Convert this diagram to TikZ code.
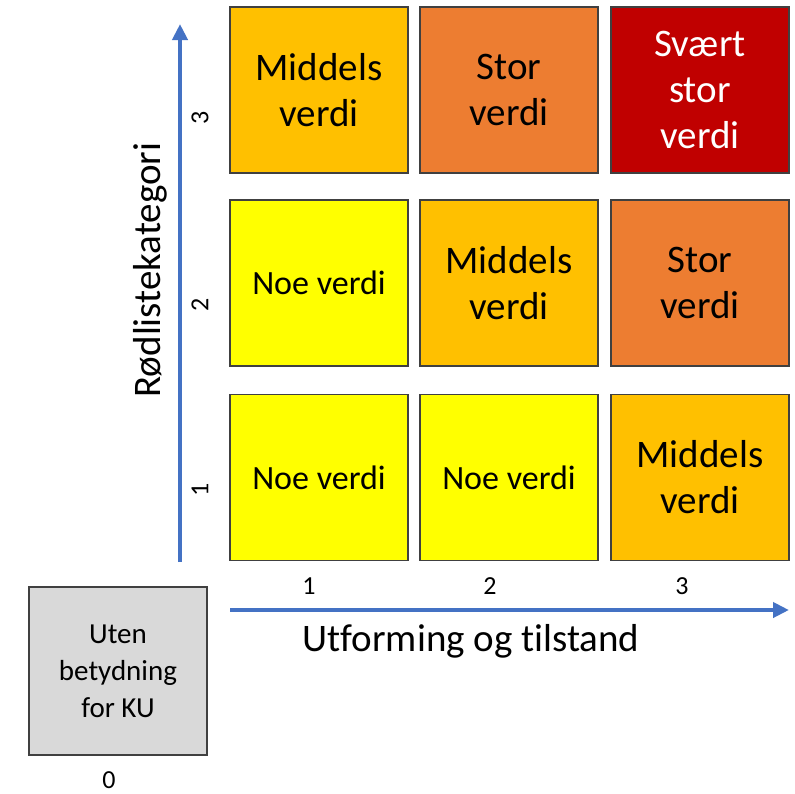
\documentclass[tikz,border=0pt]{standalone}
\usepackage{fontspec}
\setmainfont{Carlito}[Ligatures={NoCommon}]
\usetikzlibrary{arrows.meta}
\definecolor{cmid}{HTML}{FFC000}
\definecolor{cstor}{HTML}{ED7D31}
\definecolor{csvaert}{HTML}{C00000}
\definecolor{cnoe}{HTML}{FFFF00}
\definecolor{cgrey}{HTML}{D9D9D9}
\definecolor{cblue}{HTML}{4472C4}
\definecolor{cborder}{HTML}{404040}
\tikzset{
  cell/.style={draw=cborder, line width=1.2pt, minimum width=178pt, minimum height=166pt,
    inner sep=0pt, align=center, font=\fontsize{39}{46}\selectfont},
  smallcell/.style={cell, font=\fontsize{34}{40}\selectfont},
  num/.style={font=\fontsize{26}{30}\selectfont, inner sep=0pt},
  axislabel/.style={font=\fontsize{39}{46}\selectfont, inner sep=0pt},
  axis/.style={cblue, line width=4.5pt, -{Triangle[length=16pt,width=15pt]}}
}
\begin{document}
\begin{tikzpicture}[x=1pt,y=-1pt]
\useasboundingbox (0,0) rectangle (795,793);
% row 3
\node[cell, fill=cmid] (c13) at (319,90) {Middels\\verdi};
\node[cell, fill=cstor] (c23) at (509,90) {Stor\\verdi};
\node[cell, fill=csvaert, text=white] (c33) at (700,90) {Svært\\stor\\verdi};
% row 2
\node[smallcell, fill=cnoe] (c12) at (319,283) {Noe verdi};
\node[cell, fill=cmid] (c22) at (509,283) {Middels\\verdi};
\node[cell, fill=cstor] (c32) at (700,283) {Stor\\verdi};
% row 1
\node[smallcell, fill=cnoe] (c11) at (319,477.5) {Noe verdi};
\node[smallcell, fill=cnoe] (c21) at (509,477.5) {Noe verdi};
\node[cell, fill=cmid] (c31) at (700,477.5) {Middels\\verdi};
% grey box
\node[cell, fill=cgrey, minimum height=168pt, font=\fontsize{29}{37}\selectfont] (c0) at (118,671) {Uten\\betydning\\for KU};
\node[num] (n0) at (109,780) {0};
% axes
\coordinate (ys) at (180,562);
\coordinate (ye) at (180,24);
\coordinate (xs) at (230,610);
\coordinate (xe) at (789,610);
\draw[axis] (ys) -- (ye);
\draw[axis] (xs) -- (xe);
% axis numbers
\node[num] (x1) at (309,586) {1};
\node[num] (x2) at (490,586) {2};
\node[num] (x3) at (682,586) {3};
\node[num, rotate=90] (y1) at (200,490) {1};
\node[num, rotate=90] (y2) at (200,305) {2};
\node[num, rotate=90] (y3) at (200,118) {3};
% axis labels
\node[axislabel, rotate=90] (ylab) at (150,270) {Rødlistekategori};
\node[axislabel] (xlab) at (471,641) {Utforming og tilstand};
\end{tikzpicture}
\end{document}
